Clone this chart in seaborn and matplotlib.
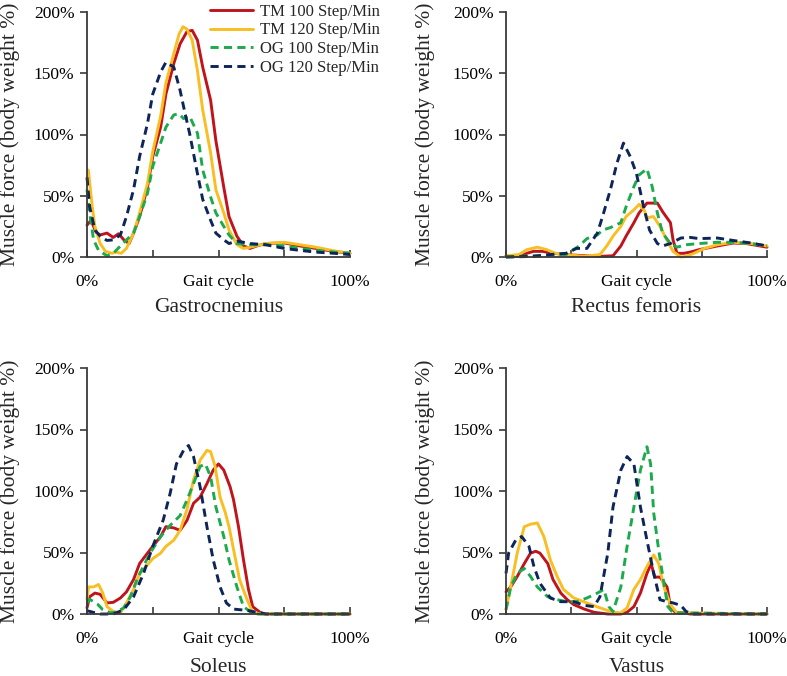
import numpy as np
import pandas as pd
import matplotlib
matplotlib.use("Agg")
import matplotlib.pyplot as plt
import seaborn as sns

# ---------------- data ----------------
series_names = ["TM 100 Step/Min", "TM 120 Step/Min", "OG 100 Step/Min", "OG 120 Step/Min"]
panel_titles = ["Gastrocnemius", "Rectus femoris", "Soleus", "Vastus"]
y_tick_values = [0, 50, 100, 150, 200]
y_tick_labels = ["0%", "50%", "100%", "150%", "200%"]
x_tick_values = [0, 25, 50, 75, 100]
x_tick_labels = ["0%", "", "Gait cycle", "", "100%"]

# Gastrocnemius
gas_tm100_x = [0, 1.5, 3.5, 5, 7.6, 10, 12, 14, 16, 17.7, 20, 23, 25, 28, 30, 33, 35.4, 38, 40, 42, 44, 47, 49, 52, 54, 57, 59.5, 62, 64.5, 68, 75, 81, 87, 94, 100]
gas_tm100_y = [26, 30, 20, 18, 19.5, 16, 19, 14, 11, 19.5, 33, 57, 82, 106, 133, 158, 174, 184, 185, 177, 155, 128, 95, 57, 33, 17, 9, 7, 9, 11, 11.5, 9, 7, 4.5, 3]
gas_tm120_x = [0.5, 2, 3, 5, 7, 9.5, 11, 13, 15, 17.7, 20, 23, 25, 28, 30, 33, 35, 36.5, 38, 40, 42, 44, 47, 49, 52, 54, 57, 59.5, 62, 68, 75, 81, 87, 94, 100]
gas_tm120_y = [71, 41, 25, 11, 4.6, 3, 4, 3, 7, 19.5, 36, 60, 86, 115, 142, 166, 182, 188, 186, 177, 152, 120, 85, 55, 36, 22, 10, 7, 8, 11, 12, 10, 8, 5, 3]
gas_og100_x = [0, 1, 2.5, 4.4, 7.6, 10, 12.7, 15, 17.7, 20, 23, 25, 28, 30, 33, 35, 36.7, 39, 42, 44, 47, 49, 52, 54, 57, 62, 68, 75, 81, 87, 94, 100]
gas_og100_y = [55, 36, 14, 5.4, 1, 3, 9, 14, 19.5, 33, 52, 74, 93, 106, 116, 117, 113, 115, 101, 71, 49, 36, 25, 18, 11, 10, 10, 9, 7, 5.4, 4, 3]
gas_og120_x = [0, 1, 3, 5, 7.6, 10, 12.7, 15, 17.7, 20, 23, 25, 28, 30, 33, 35.4, 37, 39, 42, 44, 47, 49, 52, 54, 57, 62, 68, 75, 81, 87, 94, 100]
gas_og120_y = [65, 41, 22, 17, 13.5, 14, 18, 33, 55, 82, 109, 133, 151, 159, 155, 136, 120, 101, 68, 47, 30, 19.5, 14, 11, 13, 11, 10, 7, 5.4, 4, 3, 2]

# Rectus femoris
rf_tm100_x = [0, 5, 8, 10.5, 14, 18, 23, 30, 36, 41, 44, 46, 49, 51, 54, 58, 60, 63, 64, 65.5, 68, 70.6, 74, 81, 87, 92, 100]
rf_tm100_y = [1, 0.5, 3, 4.6, 4.6, 3, 2, 1, 0.5, 1, 9, 17, 28, 36, 44, 44, 37, 28, 14, 3, 3, 4, 6, 9, 11.4, 11, 8]
rf_tm120_x = [0, 5, 8, 12, 15.6, 19, 23, 30, 36, 38.6, 41, 44, 46, 49, 51, 53, 54, 56.5, 59, 61.6, 64, 67, 69, 72, 76, 81, 87, 94, 100]
rf_tm120_y = [1, 2, 6, 8, 6, 3, 2, 0.5, 2, 9, 17, 25, 33, 38.5, 43, 38, 32, 33, 25, 14, 4.6, 0, 0.5, 3, 7, 10, 12, 11, 9]
rf_og100_x = [0, 10.5, 23, 28, 31, 35, 37, 40, 44, 46, 49, 51, 54, 56, 58, 60, 63, 65.5, 69, 74, 81, 87, 94, 100]
rf_og100_y = [0, 1, 2, 9, 15, 18, 22, 24, 28, 41, 57.5, 67, 72, 57.5, 36, 19.5, 11, 8, 10, 11, 12, 12, 11, 9]
rf_og120_x = [0, 10.5, 17, 23, 27, 31, 35, 37, 40, 42.5, 45, 47.6, 50, 52.7, 55, 58, 60, 63, 67, 70.6, 74, 81, 87, 94, 100]
rf_og120_y = [0, 0.5, 2, 3, 7, 7, 19.5, 33, 55, 76.5, 93, 82, 68, 41, 22, 11, 9, 11, 15.5, 16, 15, 15.5, 13.5, 11.4, 9]

# Soleus
sol_tm100_x = [0, 1, 3, 5, 7.6, 10, 12.7, 15, 17.7, 20, 23, 25, 28, 30, 33, 35.4, 38, 40.5, 43, 45.6, 48, 50, 52, 54.4, 55.7, 57.6, 59.5, 61.4, 63, 66, 68, 100]
sol_tm100_y = [5, 14, 17, 16, 9, 9.5, 13, 18, 28, 41, 49.5, 55, 63, 71, 70, 68, 76, 90, 95, 106, 117, 122, 117, 103.5, 93, 71, 44, 20, 6, 1, 0, 0]
sol_tm120_x = [0, 0.6, 2.5, 4.4, 6, 7.6, 10, 12.7, 15, 17.7, 20, 23, 25, 28, 30, 33, 35.4, 38, 40.5, 43, 45.6, 47, 48.7, 50.6, 52.5, 54, 56, 58, 60.8, 63, 66, 100]
sol_tm120_y = [12, 22, 22, 24, 17, 6, 2, 1, 9, 20, 33, 40, 45, 49.5, 55, 60, 68, 85, 109, 125, 133, 132, 120, 95, 83, 71, 49.5, 28, 12, 1.5, 0, 0]
sol_og100_x = [0, 1, 4, 6, 9, 11, 14, 16.5, 19, 21.5, 24, 28, 31.6, 35.4, 38, 40.5, 43, 45, 47, 49, 52, 54, 57, 59.5, 62, 65, 100]
sol_og100_y = [9, 12, 8, 3.5, 1, 1.5, 5, 14, 28, 39, 49.5, 63, 72, 80, 92.6, 106, 120, 122, 111.6, 87, 63, 44, 22, 6, 2, 0, 0]
sol_og120_x = [0, 2.5, 5, 10, 14, 17.7, 21.5, 25, 29, 31.6, 34, 36.7, 38.6, 40.5, 43, 45.6, 48, 50.6, 53, 55.7, 58, 60.8, 63, 66, 68, 100]
sol_og120_y = [2.7, 1.3, 0, 0, 3.5, 14, 33, 55, 76.5, 98, 122, 133, 137, 128, 103.5, 71, 44, 22, 9, 4, 3.5, 3, 2, 1, 0, 0]

# Vastus
vas_tm100_x = [0, 1.8, 4.3, 7, 9.4, 11.4, 13, 16, 18, 21, 23.5, 26, 30, 33.7, 39, 44, 46.4, 49, 51.5, 54, 55.6, 57, 59, 61.7, 63, 65, 68, 70.6, 100]
vas_tm100_y = [18, 22, 30.5, 41, 49.5, 51, 49.5, 41, 28, 17, 11.6, 7.6, 4, 1.4, 0, 0, 1.4, 6, 17, 33, 41, 30, 30, 22, 6, 1, 1, 0, 0]
vas_tm120_x = [0, 1.8, 4.3, 7, 9.4, 12, 14.5, 17, 19.6, 22, 26, 31, 36, 41, 44, 46.4, 49, 51.5, 54, 56.6, 58.5, 60.5, 63, 65.5, 100]
vas_tm120_y = [3.5, 22, 49.5, 71, 73, 74, 63, 44, 30.5, 20, 13, 9, 5, 1.4, 1, 5, 20, 28, 38.6, 48, 41, 22, 7.6, 1, 0]
vas_og100_x = [0, 1.8, 4.3, 7, 9.4, 12, 16, 19.6, 23.5, 27, 31, 35, 37.5, 39.4, 41, 44, 46.4, 49, 51.5, 54, 55.4, 56.6, 58.5, 60.5, 62, 64, 100]
vas_og100_y = [3.5, 22, 33, 37, 30.5, 22, 14, 11.6, 10, 10, 13, 17, 20, 6, 2, 22, 55, 87, 117, 136, 122, 82, 52, 25, 6, 1, 0]
vas_og120_x = [0, 1, 3.7, 6, 8.8, 10.7, 13, 17, 21, 26, 30, 33.7, 36, 39, 41, 44, 46.4, 49, 51.5, 54, 56.6, 59, 61.7, 64, 67, 69, 72, 100]
vas_og120_y = [33, 49.5, 60, 63, 55, 38.6, 25, 13, 10, 10, 7, 6, 14, 49.5, 87, 117, 128, 122, 87, 60, 33, 11.6, 10, 9, 7, 2, 0, 0]

panels = [
    [(gas_tm100_x, gas_tm100_y), (gas_tm120_x, gas_tm120_y), (gas_og100_x, gas_og100_y), (gas_og120_x, gas_og120_y)],
    [(rf_tm100_x, rf_tm100_y), (rf_tm120_x, rf_tm120_y), (rf_og100_x, rf_og100_y), (rf_og120_x, rf_og120_y)],
    [(sol_tm100_x, sol_tm100_y), (sol_tm120_x, sol_tm120_y), (sol_og100_x, sol_og100_y), (sol_og120_x, sol_og120_y)],
    [(vas_tm100_x, vas_tm100_y), (vas_tm120_x, vas_tm120_y), (vas_og100_x, vas_og100_y), (vas_og120_x, vas_og120_y)],
]

# ---------------- style ----------------
sns.set_theme(style="white")
plt.rcParams["font.family"] = ["Liberation Serif", "DejaVu Serif"]

palette = {
    "TM 100 Step/Min": "#C0141C",
    "TM 120 Step/Min": "#F8BE22",
    "OG 100 Step/Min": "#1DAA4C",
    "OG 120 Step/Min": "#0D2559",
}
dashes = {
    "TM 100 Step/Min": "",
    "TM 120 Step/Min": "",
    "OG 100 Step/Min": (2.8, 1.8),
    "OG 120 Step/Min": (2.8, 1.8),
}

W, H = 787, 676
fig = plt.figure(figsize=(W / 100, H / 100), dpi=100)

# axes boxes in pixels: (left, top, right, bottom)
boxes = [(87, 12, 350, 257), (506, 12, 767, 257), (87, 368, 350, 614), (506, 368, 767, 614)]
ylabel_off = [77, 81, 77, 81]
title_off = [51, 51, 54, 54]

axis_col = "#3a3a3a"
for i, (l, t, r, b) in enumerate(boxes):
    ax = fig.add_axes([l / W, 1 - b / H, (r - l) / W, (b - t) / H])
    rows = []
    for name, (xs, ys) in zip(series_names, panels[i]):
        for xv, yv in zip(xs, ys):
            rows.append({"x": xv, "y": yv, "series": name})
    df = pd.DataFrame(rows)
    sns.lineplot(data=df, x="x", y="y", hue="series", style="series",
                 palette=palette, dashes=dashes, estimator=None, sort=False,
                 linewidth=2.1, ax=ax, legend=(i == 0))
    for ln in ax.lines:
        ln.set_clip_on(False)

    ax.set_xlim(0, 100)
    ax.set_ylim(0, 200)
    ax.set_xticks(x_tick_values)
    ax.set_xticklabels(x_tick_labels)
    ax.set_yticks(y_tick_values)
    ax.set_yticklabels(y_tick_labels)
    ax.set_xlabel("")
    ax.set_ylabel("")
    for side in ["top", "right"]:
        ax.spines[side].set_visible(False)
    for side in ["left", "bottom"]:
        ax.spines[side].set_color(axis_col)
        ax.spines[side].set_linewidth(1.3)
    ax.tick_params(axis="x", direction="in", length=5, width=1.2, color=axis_col,
                   labelsize=12.5, pad=12, labelcolor="black", bottom=True)
    ax.tick_params(axis="y", direction="out", length=5, width=1.2, color=axis_col,
                   labelsize=12.5, pad=4, labelcolor="black", left=True)

    w = r - l
    h = b - t
    ax.text(-ylabel_off[i] / w, 0.5, "Muscle force (body weight %)", rotation=90,
            ha="center", va="center", fontsize=15.5, transform=ax.transAxes)
    ax.text(0.5, -title_off[i] / h, panel_titles[i], ha="center", va="center",
            fontsize=15.5, transform=ax.transAxes)

    if i == 0:
        sns.move_legend(ax, "upper left", bbox_to_anchor=((210 - l) / w, (b - 4) / h),
                        frameon=False, title=None, fontsize=12, handlelength=2.6,
                        handletextpad=0.4, borderpad=0, borderaxespad=0,
                        labelspacing=0.15)

fig.savefig("out.png", dpi=100)
